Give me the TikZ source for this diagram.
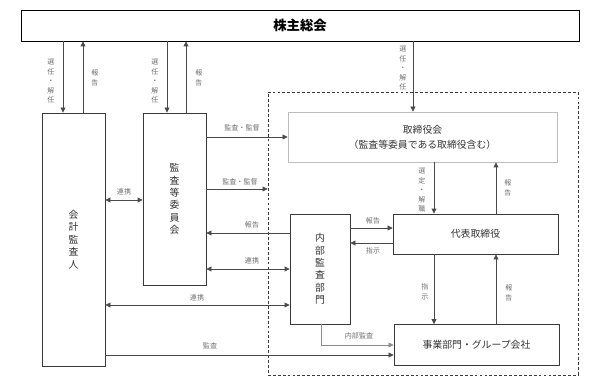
\documentclass[tikz,border=0pt]{standalone}
\usepackage{fontspec}
\setmainfont{Noto Sans CJK JP}
\usepackage{xcolor}
\usetikzlibrary{arrows.meta}

\definecolor{boxline}{HTML}{3A3A3A}
\definecolor{softline}{HTML}{BDBDBD}
\definecolor{arrline}{HTML}{4A4A4A}
\definecolor{faintarr}{HTML}{8C8C8C}
\definecolor{boxtext}{HTML}{333333}
\definecolor{lbltext}{HTML}{707070}

\tikzset{
	box/.style={draw=boxline, line width=0.6pt, inner sep=0pt, align=center, text=boxtext, font=\fontsize{7}{8.8}\selectfont},
	lbl/.style={inner sep=0pt, align=center, text=lbltext, font=\fontsize{5}{6.7}\selectfont},
	arr/.style={draw=arrline, line width=0.5pt, -{Triangle[length=3.5pt,width=3.5pt]}},
	darr/.style={arr, {Triangle[length=3.5pt,width=3.5pt]}-{Triangle[length=3.5pt,width=3.5pt]}}
}

\begin{document}
\begin{tikzpicture}[x=0.025cm, y=-0.025cm]
				\useasboundingbox (0,0) rectangle (600,386);
				
				% Boxes
				\node[box, draw=black, minimum width=13.95cm, minimum height=0.775cm, text=black, font=\fontsize{9.5}{11}\selectfont\bfseries] (sokai) at (300,25.5) {株主総会};
				\node[draw=boxline, line width=0.6pt, dash pattern=on 2pt off 1.5pt, inner sep=0pt, minimum width=7.75cm, minimum height=7.075cm] (waku) at (423,233.5) {};
				\node[box, minimum width=1.575cm, minimum height=6.325cm] (kaikei) at (73.5,239.5) {会\\計\\監\\査\\人};
				\node[box, minimum width=1.575cm, minimum height=4.3cm] (iinkai) at (174.5,199) {監\\査\\等\\委\\員\\会};
				\node[box, draw=softline, minimum width=6.725cm, minimum height=1.25cm, font=\fontsize{7}{10.5}\selectfont] (torishimari) at (422.5,137) {取締役会\\（監査等委員である取締役含む）};
				\node[box, minimum width=1.5cm, minimum height=2.75cm] (naibu) at (320,269) {内\\部\\監\\査\\部\\門};
				\node[box, minimum width=4.125cm, minimum height=1.0cm] (daihyo) at (475.5,234) {代表取締役};
				\node[box, minimum width=4.125cm, minimum height=1.025cm] (jigyo) at (476.5,345) {事業部門・グループ会社};
				
				% Arrows
				\draw[arr] (sokai.south -| 63,0) -- (kaikei.north -| 63,0);
				\draw[arr] (kaikei.north -| 83,0) -- (sokai.south -| 83,0);
				\draw[arr] (sokai.south -| 167,0) -- (iinkai.north -| 167,0);
				\draw[arr] (iinkai.north -| 186,0) -- (sokai.south -| 186,0);
				\draw[arr] (sokai.south -| 413,0) -- (torishimari.north -| 413,0);
				\draw[arr] (iinkai.east |- 0,137) -- (torishimari.west |- 0,137);
				\draw[arr] (iinkai.east |- 0,189) -- (waku.west |- 0,189);
				\draw[darr] (kaikei.east |- 0,200) -- (iinkai.west |- 0,200);
				\draw[arr] (naibu.west |- 0,233) -- (iinkai.east |- 0,233);
				\draw[darr] (iinkai.east |- 0,269) -- (naibu.west |- 0,269);
				\draw[darr] (kaikei.east |- 0,305) -- (naibu.west |- 0,305);
				\draw[arr] (kaikei.east |- 0,355) -- (jigyo.west |- 0,355);
				\draw[arr, draw=faintarr] (naibu.south -| 321,0) |- (jigyo.west |- 0,345);
				\draw[arr] (naibu.east |- 0,228) -- (daihyo.west |- 0,228);
				\draw[arr] (daihyo.west |- 0,243) -- (naibu.east |- 0,243);
				\draw[arr] (torishimari.south -| 434,0) -- (daihyo.north -| 434,0);
				\draw[arr] (daihyo.north -| 496,0) -- (torishimari.south -| 496,0);
				\draw[arr] (daihyo.south -| 434,0) -- (jigyo.north -| 434,0);
				\draw[arr] (jigyo.north -| 496,0) -- (daihyo.south -| 496,0);
				
				% Labels
				\node[lbl] (l-kaikei-sen) at (51,81) {選\\任\\・\\解\\任};
				\node[lbl] (l-kaikei-hou) at (95,78) {報\\告};
				\node[lbl] (l-iinkai-sen) at (155,81) {選\\任\\・\\解\\任};
				\node[lbl] (l-iinkai-hou) at (199,78) {報\\告};
				\node[lbl] (l-tori-sen) at (403,68) {選\\任\\・\\解\\任};
				\node[lbl] (l-kansa1) at (242,128) {監査・監督};
				\node[lbl] (l-kansa2) at (240,182) {監査・監督};
				\node[lbl] (l-renkei1) at (124,192) {連携};
				\node[lbl] (l-houkoku) at (252,225) {報告};
				\node[lbl] (l-renkei2) at (252,261) {連携};
				\node[lbl] (l-renkei3) at (197,298) {連携};
				\node[lbl] (l-kansa3) at (210,346) {監査};
				\node[lbl] (l-naibukansa) at (359,336) {内部監査};
				\node[lbl] (l-naibu-hou) at (373,221) {報告};
				\node[lbl] (l-naibu-shiji) at (373,251) {指示};
				\node[lbl] (l-sentei) at (422,190) {選\\定\\・\\解\\職};
				\node[lbl] (l-daihyo-hou) at (508,188) {報\\告};
				\node[lbl] (l-jigyo-shiji) at (425,292) {指\\示};
				\node[lbl] (l-jigyo-hou) at (509,293) {報\\告};
			\end{tikzpicture}
\end{document}
